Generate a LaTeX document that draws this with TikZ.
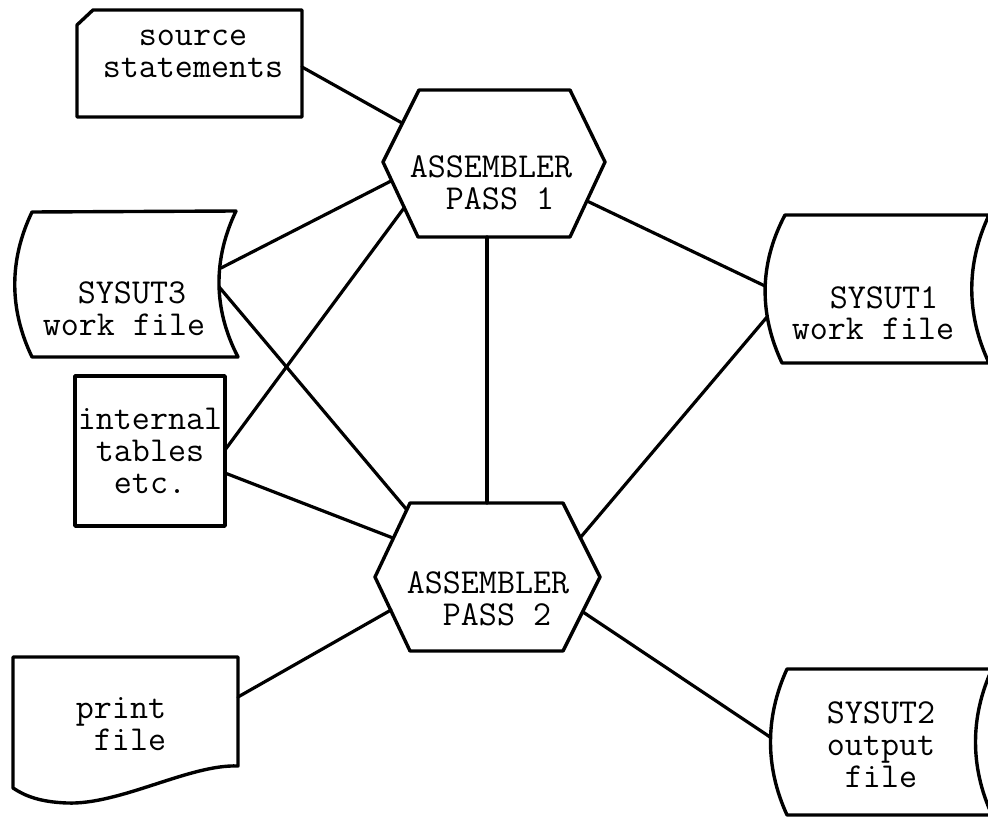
\documentclass[tikz,border=0pt]{standalone}
\begin{document}
\begin{tikzpicture}[x=1pt,y=-1pt,
  outline/.style={line width=3.4pt, line join=round},
  link/.style={line width=3.2pt, line cap=round},
  lbl/.style={anchor=base, inner sep=0pt, align=center,
    font=\ttfamily\fontsize{35}{32}\selectfont}]
\useasboundingbox (0,0) rectangle (988,818);

% ---- outlines ----
% punched card: source statements
\draw[outline] (77,25) -- (93,10) -- (302,10) -- (302,117) -- (77,117) -- cycle;
% stored data: SYSUT3 work file
\draw[outline] (32,212) -- (236,211)
  .. controls (213,259) and (213,309) .. (238,357) -- (32,357)
  .. controls (9,309) and (9,260) .. cycle;
% internal tables
\draw[outline] (75,376) rectangle (225,526);
% process: assembler pass 1
\draw[outline] (383,162) -- (419,90) -- (570,90) -- (605,162) -- (570,237) -- (418,237) -- cycle;
% stored data: SYSUT1 work file
\draw[outline] (785,215) -- (989,215)
  .. controls (966,264) and (966,314) .. (989,363) -- (782,363)
  .. controls (759,314) and (759,264) .. cycle;
% process: assembler pass 2
\draw[outline] (375,577) -- (410,503) -- (563,503) -- (600,577) -- (563,651) -- (410,651) -- cycle;
% document: print file
\draw[outline] (13,657) -- (238,657) -- (238,766)
  .. controls (190,764) and (120,805) .. (67,803)
  .. controls (40,802) and (25,796) .. (13,788) -- cycle;
% stored data: SYSUT2 output file
\draw[outline] (787,669) -- (992,669)
  .. controls (970,717) and (970,767) .. (992,815) -- (787,815)
  .. controls (765,767) and (765,717) .. cycle;

% ---- labels (anchored at the baseline of the last line) ----
\node[lbl] (src) at (193,78) {source\\statements};
\node[lbl] (pass1) at (491,210) {ASSEMBLER\\\hspace*{18pt}PASS 1};
\node[lbl] (ut3) at (124,335) {\hspace*{16pt}SYSUT3\\work file};
\node[lbl] (tab) at (150,493) {internal\\tables\\etc.};
\node[lbl] (ut1) at (873,340) {\hspace*{22pt}SYSUT1\\work file};
\node[lbl] (pass2) at (488,625) {ASSEMBLER\\\hspace*{18pt}PASS 2};
\node[lbl] (prt) at (121,750) {print\\\hspace*{18pt}file};
\node[lbl] (ut2) at (881,787) {SYSUT2\\output\\file};

% ---- connection points on the outlines ----
\coordinate (src-e)  at (302,67);
\coordinate (ut3-a)  at (221,268);
\coordinate (ut3-b)  at (220,288);
\coordinate (tab-a)  at (225,450);
\coordinate (tab-b)  at (225,473);
\coordinate (p1-a)   at (402,123);
\coordinate (p1-b)   at (391,181);
\coordinate (p1-c)   at (404,208);
\coordinate (p1-s)   at (487,237);
\coordinate (p1-d)   at (587,201);
\coordinate (p2-n)   at (487,503);
\coordinate (p2-a)   at (407,510);
\coordinate (p2-b)   at (393,538);
\coordinate (p2-c)   at (580,538);
\coordinate (p2-d)   at (391,610);
\coordinate (p2-e)   at (583,612);
\coordinate (ut1-a)  at (765,286);
\coordinate (ut1-b)  at (767,317);
\coordinate (prt-e)  at (238,697);
\coordinate (ut2-w)  at (770,737);

% ---- connectors ----
\draw[link] (src-e) -- (p1-a);
\draw[link] (ut3-a) -- (p1-b);
\draw[link] (tab-a) -- (p1-c);
\draw[link] (ut3-b) -- (p2-a);
\draw[link] (tab-b) -- (p2-b);
\draw[link] (p1-s) -- (p2-n);
\draw[link] (p1-d) -- (ut1-a);
\draw[link] (p2-c) -- (ut1-b);
\draw[link] (p2-d) -- (prt-e);
\draw[link] (p2-e) -- (ut2-w);
\end{tikzpicture}
\end{document}
